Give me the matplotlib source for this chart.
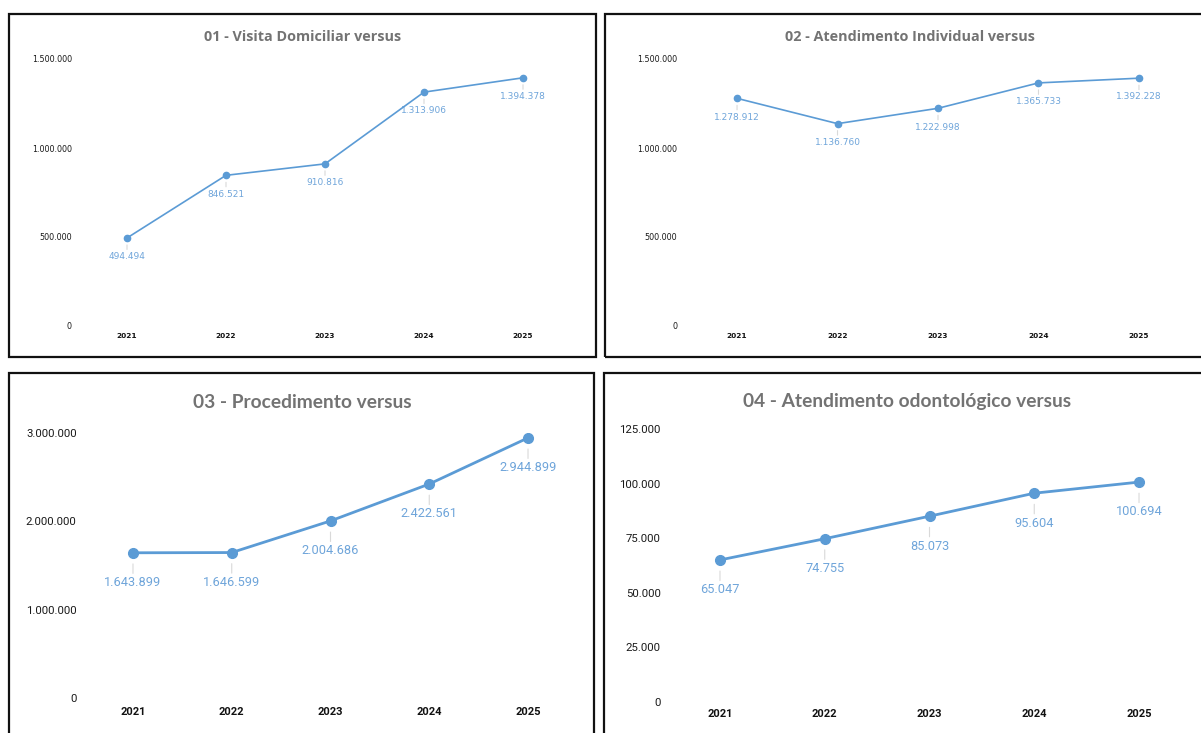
import matplotlib
matplotlib.use("Agg")
import matplotlib.pyplot as plt
from matplotlib import font_manager
from matplotlib.patches import Rectangle
from matplotlib.ticker import FuncFormatter

W, H = 1201, 733

years = ["2021", "2022", "2023", "2024", "2025"]
visita_domiciliar = [494494, 846521, 910816, 1313906, 1394378]
atendimento_individual = [1278912, 1136760, 1222998, 1365733, 1392228]
procedimento = [1643899, 1646599, 2004686, 2422561, 2944899]
atendimento_odonto = [65047, 74755, 85073, 95604, 100694]

titles = [
    "01 - Visita Domiciliar versus",
    "02 - Atendimento Individual versus",
    "03 - Procedimento versus",
    "04 - Atendimento odontológico versus",
]
yticks_small = [0, 500000, 1000000, 1500000]
yticks_proc = [0, 1000000, 2000000, 3000000]
yticks_odonto = [0, 25000, 50000, 75000, 100000, 125000]

LINE = "#5b9bd5"
LABEL = "#6fa5da"
TITLE = "#737373"


def pick_font(names):
    for n in names:
        try:
            font_manager.findfont(n, fallback_to_default=False)
            return n
        except ValueError:
            pass
    return "DejaVu Sans"


WIDE = "DejaVu Sans"
NARROW = pick_font(["Liberation Sans Narrow", "Roboto", "Lato"])
TITLE_WIDE = pick_font(["Open Sans", "DejaVu Sans"])
TITLE_NARROW = pick_font(["Liberation Sans Narrow", "Lato", "Roboto"])


def br_thousands(x, _):
    return f"{int(round(x)):,}".replace(",", ".")


def px_axes(fig, left, right, top, bottom):
    return fig.add_axes([left / W, (H - bottom) / H, (right - left) / W, (bottom - top) / H])


def frame(fig, x0, y0, x1, y1):
    fig.add_artist(Rectangle((x0 / W, 1 - y1 / H), (x1 - x0) / W, (y1 - y0) / H,
                             transform=fig.transFigure, fill=False,
                             edgecolor="#111111", linewidth=1.6, clip_on=False))


def panel(fig, box, values, yticks, title, title_pos, cfg):
    ax = px_axes(fig, *box)
    x = list(range(len(years)))
    ax.plot(x, values, color=LINE, linewidth=cfg["lw"], marker="o",
            markersize=cfg["ms"], zorder=3)
    ax.set_xlim(-0.5, len(years) - 0.5)
    ax.set_ylim(0, yticks[-1])
    ax.set_yticks(yticks)
    ax.yaxis.set_major_formatter(FuncFormatter(br_thousands))
    ax.set_xticks(x)
    ax.set_xticklabels(years)
    for s in ax.spines.values():
        s.set_visible(False)
    ax.tick_params(axis="both", length=0)
    ax.tick_params(axis="y", pad=cfg["ypad"], labelsize=cfg["tick_fs"], labelcolor="#1a1a1a")
    ax.tick_params(axis="x", pad=cfg["xpad"], labelsize=cfg["xtick_fs"], labelcolor="#111111")
    for lab in ax.get_yticklabels():
        lab.set_fontfamily(cfg["font"])
    for lab in ax.get_xticklabels():
        lab.set_fontfamily(cfg["font"])
        lab.set_fontweight("bold")

    # value labels hang below each point on a faint leader
    for xi, v in zip(x, values):
        ax.annotate(br_thousands(v, None), xy=(xi, v), xytext=(0, -cfg["off"]),
                    textcoords="offset points", ha="center", va="center",
                    color=LABEL, fontsize=cfg["lab_fs"], family=cfg["font"],
                    arrowprops=dict(arrowstyle="-", color="#d9d9d9", lw=0.8,
                                    shrinkA=0, shrinkB=cfg["shrink"]),
                    zorder=2)

    fig.text(title_pos[0] / W, 1 - title_pos[1] / H, title, ha="center", va="center",
             color=TITLE, fontsize=cfg["title_fs"], fontweight="bold",
             family=cfg["title_font"])
    return ax


small_cfg = dict(lw=1.2, ms=4.5, tick_fs=5.8, xtick_fs=5.3, lab_fs=6.5, off=13.5,
                 shrink=5, ypad=4, xpad=5, font=WIDE, title_fs=10.4,
                 title_font=TITLE_WIDE)
big_cfg = dict(lw=2.0, ms=7, tick_fs=8.2, xtick_fs=8.0, lab_fs=9.2, off=21.5,
               shrink=8, ypad=5, xpad=6.5, font=NARROW, title_fs=13.8,
               title_font=TITLE_NARROW)

fig = plt.figure(figsize=(W / 100, H / 100), dpi=100)
fig.patch.set_facecolor("white")

frame(fig, 9, 14, 596, 357)
frame(fig, 605, 14, 1215, 357)
frame(fig, 9, 373, 594, 745)
frame(fig, 604, 373, 1215, 745)

panel(fig, (77.5, 572.5, 59, 326), visita_domiciliar, yticks_small, titles[0], (303, 37), small_cfg)
panel(fig, (686.8, 1189.2, 59, 326), atendimento_individual, yticks_small, titles[1], (910, 37),
      dict(small_cfg, ypad=7))
panel(fig, (83.6, 577.4, 433, 698), procedimento, yticks_proc, titles[2], (302, 403), big_cfg)
panel(fig, (667.6, 1191.4, 429, 702), atendimento_odonto, yticks_odonto, titles[3], (907, 401),
      dict(big_cfg, xpad=5))

fig.savefig("out.png", dpi=100, facecolor="white")
